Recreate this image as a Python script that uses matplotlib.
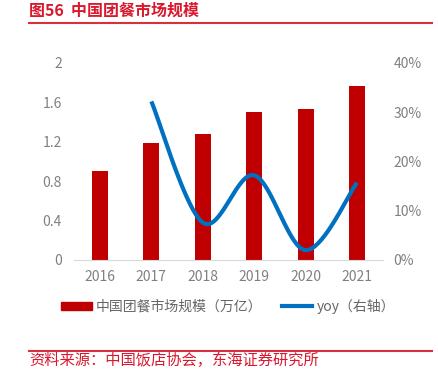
import numpy as np
import matplotlib
matplotlib.use('Agg')
import matplotlib.pyplot as plt
from matplotlib.lines import Line2D
from matplotlib.patches import Patch

plt.rcParams['font.family'] = ['Noto Sans CJK SC', 'DejaVu Sans']

years = ['2016', '2017', '2018', '2019', '2020', '2021']
market_size = [0.90, 1.19, 1.28, 1.50, 1.53, 1.77]   # 万亿
yoy = [None, 0.322, 0.076, 0.172, 0.020, 0.157]

left_ticks = [0, 0.4, 0.8, 1.2, 1.6, 2.0]
left_labels = ['0', '0.4', '0.8', '1.2', '1.6', '2']
right_ticks = [0, 0.1, 0.2, 0.3, 0.4]
right_labels = ['0%', '10%', '20%', '30%', '40%']

RED = '#C00000'
BLUE = '#0070C0'
GRAY = '#808080'
TITLE_RED = '#D9182D'


def smooth(xs, ys, n=40):
    # bezier through points, like the smoothed line in excel
    pts = np.column_stack([xs, ys]).astype(float)
    out = []
    for i in range(len(pts) - 1):
        p0 = pts[i - 1] if i > 0 else pts[i]
        p1 = pts[i]
        p2 = pts[i + 1]
        p3 = pts[i + 2] if i + 2 < len(pts) else pts[i + 1]
        c1 = p1 + (p2 - p0) / 6
        c2 = p2 - (p3 - p1) / 6
        t = np.linspace(0, 1, n)[:, None]
        seg = ((1 - t) ** 3) * p1 + 3 * ((1 - t) ** 2) * t * c1 + 3 * (1 - t) * t ** 2 * c2 + t ** 3 * p2
        out.append(seg if i == 0 else seg[1:])
    out = np.vstack(out)
    return out[:, 0], out[:, 1]


fig = plt.figure(figsize=(4.38, 3.69), dpi=100)
ax = fig.add_axes([0.1696, 0.2954, 0.704, 0.5339])

x = np.arange(len(years))
ax.bar(x, market_size, width=0.31, color=RED, zorder=2)
ax.set_xlim(-0.5, len(years) - 0.5)
ax.set_ylim(0, 2)
ax.set_yticks(left_ticks)
ax.set_yticklabels(left_labels, fontweight='light')
ax.set_xticks(x)
ax.set_xticklabels(years, fontweight='light')
for s in ['top', 'right', 'left']:
    ax.spines[s].set_visible(False)
ax.spines['bottom'].set_color('#D9D9D9')
ax.tick_params(axis='both', length=0, colors=GRAY, labelsize=10)
ax.tick_params(axis='x', pad=7)
ax.tick_params(axis='y', pad=9)

ax2 = ax.twinx()
xi = [i for i, v in enumerate(yoy) if v is not None]
yi = [v for v in yoy if v is not None]
sx, sy = smooth(xi, yi)
ax2.plot(sx, sy, color=BLUE, lw=3, solid_capstyle='butt', zorder=3)
ax2.set_ylim(0, 0.4)
ax2.set_yticks(right_ticks)
ax2.set_yticklabels(right_labels, fontweight='light')
for s in ['top', 'right', 'left', 'bottom']:
    ax2.spines[s].set_visible(False)
ax2.tick_params(axis='y', length=0, colors=GRAY, labelsize=10, pad=8)

handles = [Patch(color=RED), Line2D([0], [0], color=BLUE, lw=3)]
fig.legend(handles, ['中国团餐市场规模（万亿）', 'yoy（右轴）'],
           loc='center', bbox_to_anchor=(228 / 438, 1 - 306 / 369), ncol=2,
           frameon=False, prop={'size': 10, 'weight': 'light'},
           labelcolor='#666666',
           handlelength=2.2, handleheight=0.5, handletextpad=0.3,
           columnspacing=1.4)

fig.text(29 / 438, 1 - 11 / 369, '图56  中国团餐市场规模', color=TITLE_RED,
         fontsize=11.5, fontweight='bold', va='center', ha='left')
fig.add_artist(Line2D([29 / 438, 432 / 438], [1 - 23 / 369] * 2,
                      color='#D9303E', lw=1.5))
fig.add_artist(Line2D([29 / 438, 432 / 438], [1 - 351 / 369] * 2,
                      color='#D9303E', lw=1.5))
fig.text(29 / 438, 1 - 360 / 369, '资料来源：中国饭店协会，东海证券研究所',
         color=TITLE_RED, fontsize=11, fontweight='light', va='center', ha='left')

fig.savefig('out.png', dpi=100)
